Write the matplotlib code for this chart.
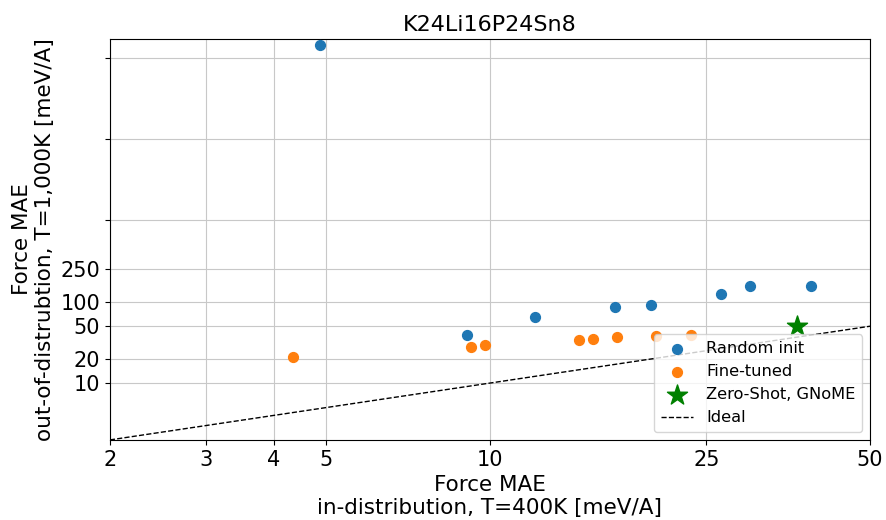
import matplotlib.pyplot as plt
import numpy as np

# Force MAE (meV/A): in-distribution (T=400K) vs out-of-distribution (T=1,000K)
random_in = [4.87, 9.08, 12.1, 17.0, 19.8, 26.6, 30.1, 39.0]
random_out = [145000, 39.2, 65.1, 86.3, 90.6, 124.6, 156, 156]

finetuned_in = [4.35, 9.23, 9.81, 14.6, 15.5, 17.1, 20.2, 23.4]
finetuned_out = [20.8, 27.4, 29.5, 33.7, 35.0, 36.4, 37.7, 38.5]

gnome_in = [36.7]
gnome_out = [50.5]

xticks = [2, 3, 4, 5, 10, 25, 50]
yticks = [10, 20, 50, 100, 250, 1000, 10000, 100000]
ytick_labels = ['10', '20', '50', '100', '250', '', '', '']

fig, ax = plt.subplots(figsize=(8.86, 5.2), dpi=100)

ax.scatter(random_in, random_out, s=50, color='tab:blue', label='Random init', zorder=3)
ax.scatter(finetuned_in, finetuned_out, s=50, color='tab:orange', label='Fine-tuned', zorder=3)
ax.scatter(gnome_in, gnome_out, s=230, marker='*', color='green',
           label='Zero-Shot, GNoME', zorder=3)

ideal = np.array([2, 50])
ax.plot(ideal, ideal, 'k--', linewidth=1, label='Ideal')

ax.set_xscale('log')
ax.set_yscale('log')
ax.set_xlim(2, 50)
ax.set_ylim(2, 170000)

ax.set_xticks(xticks)
ax.set_xticklabels([str(t) for t in xticks])
ax.set_yticks(yticks)
ax.set_yticklabels(ytick_labels)
ax.minorticks_off()
ax.tick_params(labelsize=15)
ax.grid(True, color='#c8c8c8')
ax.set_axisbelow(True)

ax.set_xlabel('Force MAE\nin-distribution, T=400K [meV/A]', fontsize=15.5)
ax.set_ylabel('Force MAE\nout-of-distrubtion, T=1,000K [meV/A]', fontsize=15.5)
ax.set_title('K24Li16P24Sn8', fontsize=16)

ax.legend(loc='lower right', fontsize=11.7)

plt.subplots_adjust(left=0.124, right=0.982, top=0.925, bottom=0.154)
plt.savefig('out.png')
